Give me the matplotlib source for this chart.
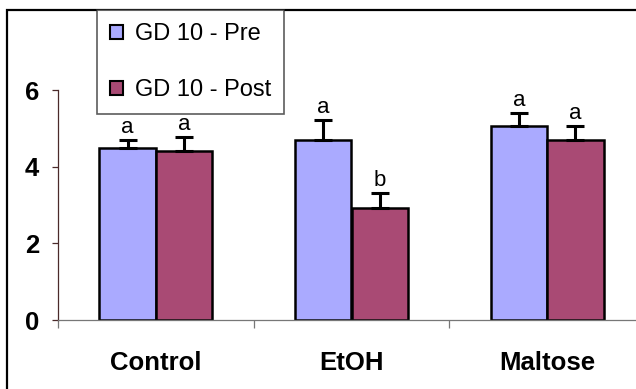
import matplotlib
matplotlib.use("Agg")
import matplotlib.pyplot as plt
from matplotlib.patches import Patch, Rectangle
import numpy as np

plt.rcParams['font.family'] = ['Liberation Sans', 'DejaVu Sans']

categories = ["Control", "EtOH", "Maltose"]
series_names = ["GD 10 - Pre", "GD 10 - Post"]
pre_values = [4.48, 4.70, 5.06]
post_values = [4.42, 2.93, 4.70]
pre_err = [0.22, 0.52, 0.33]
post_err = [0.36, 0.39, 0.36]
pre_letters = ["a", "a", "a"]
post_letters = ["a", "b", "a"]
y_ticks = [0, 2, 4, 6]

colors = ["#AAAAFF", "#A94A74"]

W, H = 636, 389
fig = plt.figure(figsize=(W / 100, H / 100), dpi=100)

# outer frame (open at right and bottom, beyond the canvas)
frame = Rectangle((7 / W, -0.2), 1.2, 1 - 10 / H + 0.2, transform=fig.transFigure,
                  fill=False, edgecolor="black", linewidth=1.6, zorder=0)
fig.patches.append(frame)

ax = fig.add_axes([58 / W, 1 - 320 / H, (645 - 58) / W, (320 - 90) / H])
ax.set_xlim(-0.5, len(categories) - 0.5)
ax.set_ylim(0, 6)

x = np.arange(len(categories))
bw = 0.289
series = [(pre_values, pre_err, pre_letters), (post_values, post_err, post_letters)]
for i, (vals, errs, letters) in enumerate(series):
    xs = x + (i - 0.5) * bw
    ax.bar(xs, vals, width=bw, color=colors[i], edgecolor="black", linewidth=1.8,
           zorder=2, label=series_names[i])
    ax.errorbar(xs, vals, yerr=[np.zeros(len(vals)), errs], fmt="none",
                ecolor="black", elinewidth=2.2, capsize=6.4, capthick=2.2, zorder=3)
    for xi, v, e, l in zip(xs, vals, errs, letters):
        ax.text(xi, v + e + 0.18, l, ha="center", va="baseline", fontsize=16)

for s in ["top", "right"]:
    ax.spines[s].set_visible(False)
ax.spines["left"].set_color("#4a2a2a")
ax.spines["left"].set_linewidth(0.9)
ax.spines["bottom"].set_color("#777777")
ax.spines["bottom"].set_linewidth(0.9)

ax.set_yticks(y_ticks)
ax.set_yticklabels([str(t) for t in y_ticks], fontsize=18.5, fontweight="bold")
ax.tick_params(axis="y", direction="out", length=4.5, width=0.9, color="#4a2a2a", pad=9)

ax.set_xticks(x)
ax.set_xticklabels(categories, fontsize=18.5, fontweight="bold")
ax.tick_params(axis="x", which="major", length=0, pad=22)
ax.set_xticks(np.arange(len(categories) + 1) - 0.5, minor=True)
ax.tick_params(axis="x", which="minor", direction="out", length=6, width=0.9, color="#777777")

handles = [Patch(facecolor=colors[0], edgecolor="black", linewidth=1.5),
           Patch(facecolor=colors[1], edgecolor="black", linewidth=1.5)]
leg = fig.legend(handles, series_names, loc="upper left",
                 bbox_to_anchor=(97 / W, 1 - 10 / H), fontsize=17,
                 frameon=True, fancybox=False, edgecolor="#333333",
                 handlelength=0.55, handleheight=0.55, handletextpad=0.5,
                 labelspacing=1.45, borderpad=0.55, borderaxespad=0)
leg.get_frame().set_linewidth(1.2)

fig.savefig("out.png", dpi=100)
